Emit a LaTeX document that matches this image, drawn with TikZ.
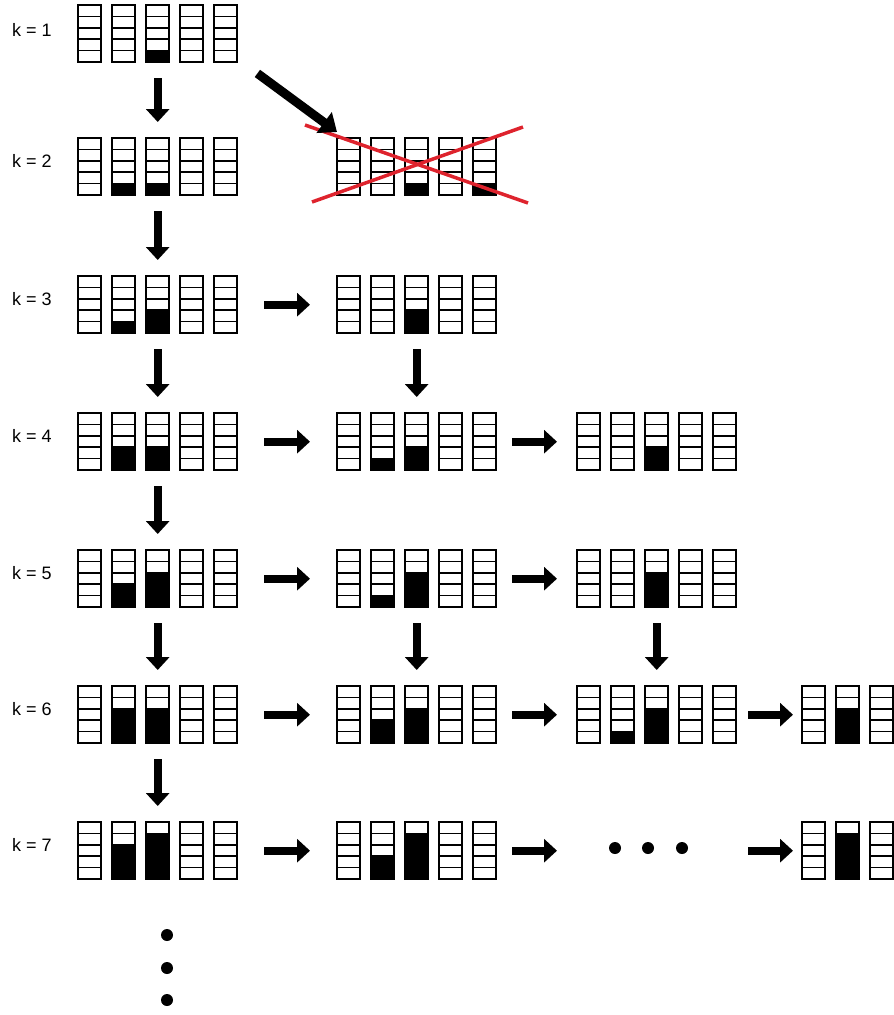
\documentclass[tikz,border=0pt]{standalone}
\usepackage{fontspec}
\setmainfont{Liberation Sans}
\usetikzlibrary{arrows.meta}
\definecolor{crossred}{RGB}{222,35,45}

\newcommand{\tower}[3]{% one column of 5 cells, #3 of them filled from the bottom
  \draw[cellbox] (#1,#2) rectangle ++(23,57);
  \foreach \j in {1,...,4} \draw[cellbox] (#1,#2+\j*11.4) -- ++(23,0);
  \ifnum#3>0 \fill (#1,#2+57) rectangle ++(23,-#3*11.4);\fi
}
\newcommand{\towers}[4]{% a group of columns, top left corner at (#2,#3)
  \node[grp] (#1) at (#2,#3) {};
  \foreach \f [count=\i from 0] in {#4} {\tower{#2+\i*34}{#3}{\f}}
}

\begin{document}
\begin{tikzpicture}[x=1pt, y=-1pt,
  cellbox/.style={draw=black, line width=1.6pt},
  grp/.style={anchor=north west, minimum width=159pt, minimum height=57pt, inner sep=0pt},
  bigarrow/.style={line width=8pt, -{Triangle[width=23pt,length=13pt]}},
  klabel/.style={anchor=west, inner sep=0pt, font=\fontsize{18}{21}\selectfont},
  dot/.style={circle, fill, inner sep=0pt, minimum size=12pt}]
\useasboundingbox (0,0) rectangle (894,1015);

% labels
\node[klabel] (k1) at (12,30) {k = 1};
\node[klabel] (k2) at (12,161) {k = 2};
\node[klabel] (k3) at (12,299) {k = 3};
\node[klabel] (k4) at (12,436) {k = 4};
\node[klabel] (k5) at (12,573) {k = 5};
\node[klabel] (k6) at (12,709) {k = 6};
\node[klabel] (k7) at (12,845) {k = 7};

% the groups of columns
\towers{r1a}{78}{5}{0,0,1,0,0}
\towers{r2a}{78}{138}{0,1,1,0,0}
\towers{r2b}{337}{138}{0,0,1,0,1}
\towers{r3a}{78}{276}{0,1,2,0,0}
\towers{r3b}{337}{276}{0,0,2,0,0}
\towers{r4a}{78}{413}{0,2,2,0,0}
\towers{r4b}{337}{413}{0,1,2,0,0}
\towers{r4c}{577}{413}{0,0,2,0,0}
\towers{r5a}{78}{550}{0,2,3,0,0}
\towers{r5b}{337}{550}{0,1,3,0,0}
\towers{r5c}{577}{550}{0,0,3,0,0}
\towers{r6a}{78}{686}{0,3,3,0,0}
\towers{r6b}{337}{686}{0,2,3,0,0}
\towers{r6c}{577}{686}{0,1,3,0,0}
\towers{r6d}{802}{686}{0,3,0}
\towers{r7a}{78}{822}{0,3,4,0,0}
\towers{r7b}{337}{822}{0,2,4,0,0}
\node[grp] (r7c) at (577,822) {};
\towers{r7d}{802}{822}{0,4,0}

% dots
\node[dot] (hd1) at (615,848) {};
\node[dot] (hd2) at (648,848) {};
\node[dot] (hd3) at (682,848) {};
\node[dot] (vd1) at (167,935) {};
\node[dot] (vd2) at (167,968) {};
\node[dot] (vd3) at (167,1000) {};

% crossed out group
\draw[crossred, line width=3.5pt] (305,125) -- (528,203);
\draw[crossred, line width=3.5pt] (312,202) -- (523,127);

% arrows down
\foreach \a/\b in {r1a/r2a, r2a/r3a, r3a/r4a, r4a/r5a, r5a/r6a, r6a/r7a, r3b/r4b, r5b/r6b, r5c/r6c}
  \draw[bigarrow, shorten <=16pt, shorten >=16pt] (\a) -- (\b);
\draw[bigarrow, line width=9pt, -{Triangle[width=25pt,length=16pt]}]
  ([shift={(20,11)}]r1a.south east) -- ([shift={(0,-6)}]r2b.north west);

% arrows to the right
\foreach \a/\b in {r3a/r3b, r4a/r4b, r5a/r5b, r6a/r6b, r7a/r7b}
  \draw[bigarrow, shorten <=27pt, shorten >=27pt] (\a) -- (\b);
\foreach \a/\b in {r4b/r4c, r5b/r5c, r6b/r6c, r7b/r7c}
  \draw[bigarrow, shorten <=16pt, shorten >=20pt] (\a) -- (\b);
\foreach \a/\b in {r6c/r6d, r7c/r7d}
  \draw[bigarrow, shorten <=12pt, shorten >=9pt] (\a) -- (\b);
\end{tikzpicture}
\end{document}
